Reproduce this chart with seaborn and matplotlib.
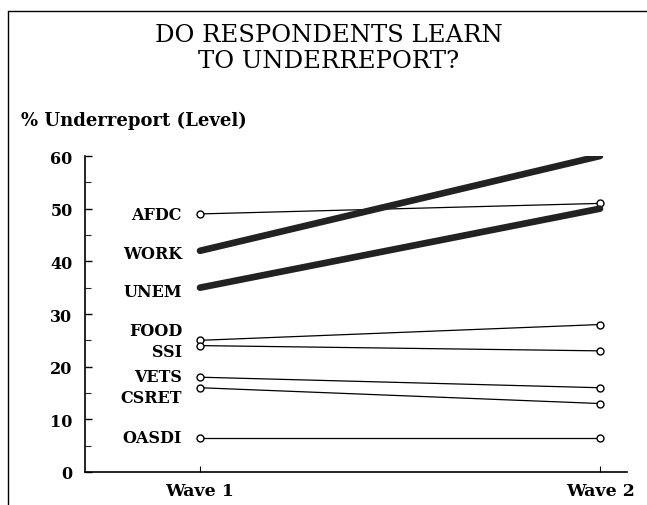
import numpy as np
import pandas as pd
import matplotlib
matplotlib.use("Agg")
import matplotlib.pyplot as plt
import seaborn as sns
from matplotlib.lines import Line2D
from matplotlib.ticker import MultipleLocator

# data
waves = ["Wave 1", "Wave 2"]
programs = ["AFDC", "WORK", "UNEM", "FOOD", "SSI", "VETS", "CSRET", "OASDI"]
wave1 = [49, 42, 35, 25, 24, 18, 16, 6.5]
wave2 = [51, 60, 50, 28, 23, 16, 13, 6.5]
thick = ["WORK", "UNEM"]

# small vertical nudges so crowded labels don't overlap
label_nudge = {"AFDC": -0.2, "WORK": -0.6, "UNEM": -0.7, "FOOD": 1.8,
               "SSI": -1.2, "VETS": 0.2, "CSRET": -1.8, "OASDI": 0.0}

df = pd.DataFrame({
    "program": np.repeat(programs, 2),
    "wave": waves * len(programs),
    "value": [v for pair in zip(wave1, wave2) for v in pair],
})
df["pos"] = df["wave"].map({w: i for i, w in enumerate(waves)})

sns.set_theme(style="white")
plt.rcParams["font.family"] = ["DejaVu Serif"]

fig = plt.figure(figsize=(6.47, 5.06), dpi=100)
ax = fig.add_axes([85 / 647, 33 / 506, 542 / 647, 316 / 506])

for prog in programs:
    sub = df[df["program"] == prog]
    if prog in thick:
        sns.lineplot(data=sub, x="pos", y="value", ax=ax, color="#222222",
                     linewidth=4.8, solid_capstyle="round", legend=False)
    else:
        sns.lineplot(data=sub, x="pos", y="value", ax=ax, color="black",
                     linewidth=0.9, marker="o", markersize=5,
                     markerfacecolor="white", markeredgecolor="black",
                     markeredgewidth=1.0, legend=False)

for prog, v in zip(programs, wave1):
    ax.text(-0.045, v + label_nudge[prog], prog, ha="right", va="center",
            fontsize=11.5, fontweight="bold", color="black")

ax.set_xlim(-0.2875, 1.0675)
ax.set_ylim(0, 60)
ax.set_xticks([0, 1])
ax.set_xticklabels(waves, fontsize=12.5, fontweight="bold")
ax.set_yticks(range(0, 61, 10))
ax.set_yticklabels([str(t) for t in range(0, 61, 10)], fontsize=11.5,
                   fontweight="bold")
ax.yaxis.set_minor_locator(MultipleLocator(5))
ax.tick_params(axis="y", which="major", direction="in", length=5, width=1,
               pad=9, left=True, colors="black")
ax.tick_params(axis="y", which="minor", direction="in", length=4, width=0.8,
               left=True)
ax.tick_params(axis="x", direction="in", length=4, width=0.8, pad=7,
               bottom=True, colors="black")
ax.set_xlabel("")
ax.set_ylabel("")
for side in ["top", "right"]:
    ax.spines[side].set_visible(False)
for side in ["left", "bottom"]:
    ax.spines[side].set_color("black")
    ax.spines[side].set_linewidth(1.2)
# small cap at the top of the y axis
ax.plot([0, 0.012], [60, 60], transform=ax.transAxes, color="black",
        linewidth=1.2, clip_on=False)

fig.text(329 / 647, 1 - 48.5 / 506, "DO RESPONDENTS LEARN\nTO UNDERREPORT?",
         ha="center", va="center", fontsize=17.5, linespacing=1.2,
         color="black")
fig.text(21 / 647, 1 - 121 / 506, "% Underreport (Level)", ha="left",
         va="center", fontsize=13, fontweight="bold", color="black")

# frame around the figure
fig.add_artist(Line2D([8 / 647, 8 / 647], [0, 1 - 12 / 506],
                      transform=fig.transFigure, color="black", linewidth=1))
fig.add_artist(Line2D([8 / 647, 1], [1 - 12 / 506, 1 - 12 / 506],
                      transform=fig.transFigure, color="black", linewidth=1))

fig.savefig("out.png", dpi=100)
